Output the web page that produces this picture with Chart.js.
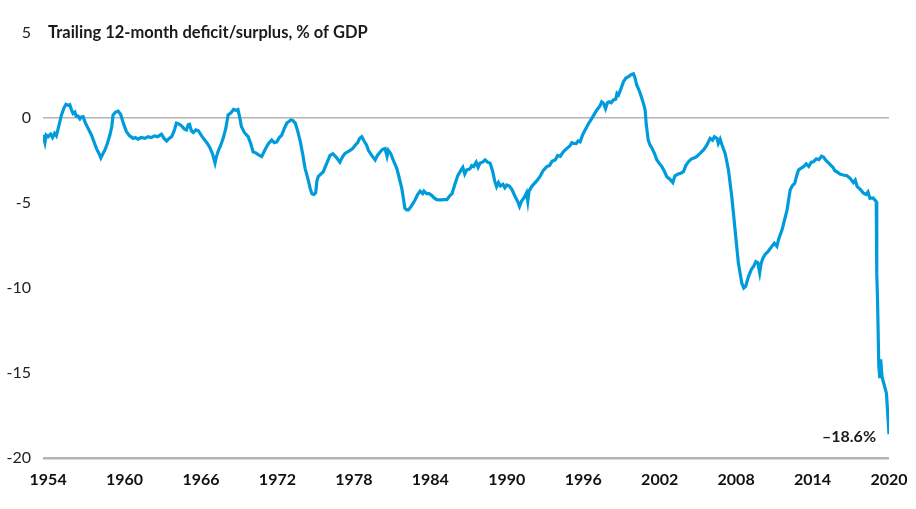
<!DOCTYPE html>
<html>
<head>
<meta charset="utf-8">
<script src="https://cdn.jsdelivr.net/npm/chart.js@4"></script>
<style>
  html, body { margin: 0; padding: 0; background: #fff; }
  #wrap { width: 916px; height: 509px; position: relative; }
</style>
</head>
<body>
<div id="wrap"><canvas id="deficitChart"></canvas></div>
<script>
// Trailing 12-month deficit/surplus, % of GDP
const years = [
  1953.6, 1953.75, 1953.85, 1954.0, 1954.2, 1954.35, 1954.5, 1954.65, 1954.8, 1955.05,
  1955.25, 1955.4, 1955.55, 1955.7, 1955.85, 1955.96, 1956.1, 1956.2, 1956.35, 1956.5,
  1956.6, 1956.75, 1956.9, 1957.1, 1957.4, 1957.6, 1957.8, 1958.0, 1958.14, 1958.3,
  1958.45, 1958.65, 1958.85, 1959.0, 1959.1, 1959.3, 1959.5, 1959.7, 1959.9, 1960.15,
  1960.4, 1960.67, 1960.85, 1961.06, 1961.3, 1961.6, 1961.85, 1962.1, 1962.35, 1962.6,
  1962.9, 1963.1, 1963.3, 1963.5, 1963.7, 1963.9, 1964.07, 1964.25, 1964.46, 1964.7,
  1964.86, 1965.0, 1965.1, 1965.25, 1965.4, 1965.6, 1965.8, 1966.05, 1966.3, 1966.5,
  1966.7, 1966.9, 1967.1, 1967.2, 1967.35, 1967.55, 1967.74, 1967.95, 1968.13, 1968.35,
  1968.55, 1968.75, 1968.9, 1969.05, 1969.17, 1969.4, 1969.7, 1969.9, 1970.1, 1970.3,
  1970.5, 1970.77, 1971.0, 1971.3, 1971.55, 1971.75, 1971.95, 1972.15, 1972.34, 1972.55,
  1972.74, 1972.9, 1973.05, 1973.2, 1973.4, 1973.6, 1973.8, 1974.0, 1974.17, 1974.4,
  1974.57, 1974.7, 1974.85, 1975.0, 1975.1, 1975.2, 1975.4, 1975.6, 1975.85, 1976.13,
  1976.35, 1976.6, 1976.9, 1977.1, 1977.3, 1977.5, 1977.7, 1977.9, 1978.1, 1978.3,
  1978.45, 1978.62, 1978.8, 1979.0, 1979.14, 1979.4, 1979.67, 1979.85, 1980.06, 1980.25,
  1980.45, 1980.6, 1980.7, 1980.9, 1981.1, 1981.37, 1981.55, 1981.76, 1981.9, 1982.0,
  1982.15, 1982.28, 1982.5, 1982.8, 1983.0, 1983.2, 1983.4, 1983.5, 1983.7, 1983.9,
  1984.1, 1984.3, 1984.5, 1984.8, 1985.05, 1985.3, 1985.5, 1985.7, 1985.95, 1986.15,
  1986.34, 1986.55, 1986.7, 1986.86, 1987.1, 1987.25, 1987.4, 1987.6, 1987.75, 1987.9,
  1988.1, 1988.3, 1988.5, 1988.7, 1988.9, 1989.05, 1989.2, 1989.35, 1989.5, 1989.7,
  1989.85, 1990.0, 1990.2, 1990.4, 1990.66, 1990.85, 1991.0, 1991.15, 1991.35, 1991.55,
  1991.65, 1991.75, 1991.9, 1992.1, 1992.35, 1992.6, 1992.85, 1993.14, 1993.35, 1993.55,
  1993.8, 1994.0, 1994.2, 1994.45, 1994.7, 1994.95, 1995.1, 1995.23, 1995.45, 1995.6,
  1995.76, 1995.95, 1996.15, 1996.4, 1996.68, 1996.85, 1997.07, 1997.3, 1997.45, 1997.6,
  1997.75, 1997.9, 1998.05, 1998.2, 1998.37, 1998.55, 1998.65, 1998.77, 1998.95, 1999.16,
  1999.35, 1999.55, 1999.75, 1999.94, 2000.05, 2000.2, 2000.4, 2000.6, 2000.75, 2000.86,
  2000.95, 2001.1, 2001.25, 2001.4, 2001.6, 2001.78, 2002.0, 2002.17, 2002.35, 2002.56,
  2002.8, 2003.03, 2003.2, 2003.45, 2003.65, 2003.87, 2004.05, 2004.26, 2004.5, 2004.7,
  2004.9, 2005.15, 2005.44, 2005.7, 2005.96, 2006.15, 2006.3, 2006.5, 2006.6, 2006.75,
  2006.9, 2007.14, 2007.4, 2007.66, 2007.92, 2008.18, 2008.45, 2008.6, 2008.75, 2008.97,
  2009.2, 2009.36, 2009.55, 2009.7, 2009.85, 2009.95, 2010.1, 2010.3, 2010.5, 2010.75,
  2011.0, 2011.2, 2011.35, 2011.6, 2011.8, 2012.0, 2012.24, 2012.4, 2012.6, 2012.75,
  2012.9, 2013.1, 2013.3, 2013.5, 2013.7, 2013.9, 2014.07, 2014.3, 2014.5, 2014.7,
  2014.86, 2015.05, 2015.2, 2015.4, 2015.6, 2015.75, 2015.9, 2016.15, 2016.4, 2016.7,
  2016.95, 2017.2, 2017.35, 2017.5, 2017.75, 2018.0, 2018.2, 2018.35, 2018.5, 2018.75,
  2019.0, 2019.04, 2019.1, 2019.2, 2019.28, 2019.35, 2019.45, 2019.55, 2019.8, 2020.0
];
const deficit = [
  -1.0, -1.45, -1.0, -1.1, -0.95, -1.15, -0.9, -1.05, -0.6, 0.18,
  0.6, 0.8, 0.75, 0.78, 0.45, 0.27, 0.35, 0.1, 0.12, -0.05,
  0.05, 0.08, -0.25, -0.55, -1.0, -1.4, -1.8, -2.1, -2.35, -2.1,
  -1.9, -1.5, -1.0, -0.5, 0.18, 0.35, 0.4, 0.2, -0.3, -0.8,
  -1.05, -1.2, -1.15, -1.25, -1.15, -1.2, -1.1, -1.15, -1.05, -1.1,
  -0.95, -1.2, -1.35, -1.2, -1.1, -0.75, -0.3, -0.35, -0.45, -0.65,
  -0.7, -0.4, -0.37, -0.75, -0.85, -0.7, -0.75, -1.05, -1.3, -1.5,
  -1.75, -2.1, -2.65, -2.3, -1.95, -1.6, -1.2, -0.6, 0.18, 0.3,
  0.5, 0.45, 0.5, 0.0, -0.5, -0.85, -1.1, -1.5, -2.0, -2.05,
  -2.15, -2.27, -1.9, -1.5, -1.3, -1.45, -1.4, -1.15, -1.0, -0.6,
  -0.3, -0.2, -0.12, -0.15, -0.3, -0.8, -1.4, -2.2, -2.96, -3.6,
  -4.14, -4.45, -4.5, -4.4, -3.7, -3.45, -3.3, -3.16, -2.7, -2.2,
  -2.1, -2.3, -2.6, -2.3, -2.08, -2.0, -1.9, -1.8, -1.6, -1.45,
  -1.2, -1.1, -1.35, -1.6, -1.9, -2.2, -2.47, -2.2, -2.0, -1.85,
  -1.8, -2.25, -1.9, -2.1, -2.5, -2.96, -3.5, -4.14, -4.8, -5.3,
  -5.4, -5.4, -5.2, -4.82, -4.5, -4.3, -4.45, -4.3, -4.45, -4.45,
  -4.55, -4.7, -4.8, -4.82, -4.8, -4.8, -4.6, -4.45, -3.85, -3.4,
  -3.15, -2.9, -3.3, -3.05, -3.0, -2.8, -2.86, -2.6, -2.9, -2.65,
  -2.6, -2.47, -2.6, -2.67, -3.16, -3.7, -4.04, -3.8, -4.0, -3.9,
  -4.1, -3.94, -4.0, -4.2, -4.63, -4.9, -5.2, -4.9, -4.7, -4.4,
  -4.9, -4.3, -4.1, -3.9, -3.7, -3.45, -3.1, -2.86, -2.8, -2.55,
  -2.47, -2.2, -2.25, -1.98, -1.8, -1.65, -1.45, -1.49, -1.5, -1.35,
  -1.4, -1.0, -0.7, -0.35, -0.02, 0.2, 0.47, 0.7, 0.95, 0.86,
  0.55, 0.9, 0.95, 0.9, 1.06, 1.1, 1.45, 1.35, 1.7, 2.14,
  2.35, 2.43, 2.55, 2.6, 2.4, 1.94, 1.6, 1.16, 0.8, 0.47,
  -0.4, -1.29, -1.6, -1.78, -2.1, -2.47, -2.7, -2.86, -3.1, -3.45,
  -3.6, -3.8, -3.4, -3.3, -3.25, -3.16, -2.8, -2.57, -2.4, -2.35,
  -2.27, -2.1, -1.88, -1.6, -1.2, -1.3, -1.1, -1.2, -1.5, -1.25,
  -1.6, -2.08, -3.06, -4.63, -6.59, -8.55, -9.72, -10.0, -9.9, -9.33,
  -8.9, -8.75, -8.45, -8.5, -9.1, -8.6, -8.25, -8.0, -7.86, -7.6,
  -7.37, -7.55, -7.1, -6.59, -6.0, -5.41, -4.24, -4.0, -3.84, -3.4,
  -3.06, -2.95, -2.86, -2.7, -2.85, -2.6, -2.57, -2.4, -2.45, -2.25,
  -2.3, -2.5, -2.6, -2.76, -2.9, -3.1, -3.16, -3.3, -3.35, -3.4,
  -3.55, -3.8, -3.65, -4.04, -4.2, -4.43, -4.5, -4.35, -4.72, -4.7,
  -4.92, -9.14, -10.7, -14.6, -15.3, -14.2, -15.2, -15.5, -16.2, -18.6
];
const xTicks = [1954, 1960, 1966, 1972, 1978, 1984, 1990, 1996, 2002, 2008, 2014, 2020];
const yTicks = [5, 0, -5, -10, -15, -20];
const chartTitle = 'Trailing 12-month deficit/surplus, % of GDP';
const endLabel = '\u201318.6%';

const blue = '#009BDB';
const gridGray = '#b4b4b4';
const fontFam = 'Lato, "Noto Sans", sans-serif';

// horizontal grey rule across the plot at a y value
const drawRule = (chart, value, thick) => {
  const { ctx, chartArea, scales } = chart;
  const y = Math.round(scales.y.getPixelForValue(value));
  ctx.save();
  ctx.fillStyle = gridGray;
  ctx.fillRect(chartArea.left, y - 1, chartArea.right - chartArea.left, thick);
  ctx.restore();
};

// rules at 0 (under the line) and -20, title next to the top tick, label at the last point
const textPlugin = {
  id: 'textPlugin',
  beforeDatasetsDraw(chart) {
    drawRule(chart, 0, 1.5);
  },
  afterDraw(chart) {
    const { ctx, scales } = chart;
    drawRule(chart, -20, 2.5);
    ctx.save();
    ctx.fillStyle = '#1a1a1a';
    ctx.font = 'bold 16.5px ' + fontFam;
    ctx.textBaseline = 'middle';
    ctx.textAlign = 'left';
    ctx.fillText(chartTitle, scales.x.left + 5, scales.y.getPixelForValue(5));
    const lastX = years[years.length - 1], lastY = deficit[deficit.length - 1];
    ctx.font = 'bold 16px ' + fontFam;
    ctx.textAlign = 'right';
    ctx.fillText(endLabel, scales.x.getPixelForValue(lastX) - 13, scales.y.getPixelForValue(lastY) + 3);
    ctx.restore();
  }
};

new Chart(document.getElementById('deficitChart'), {
  type: 'line',
  data: {
    datasets: [{
      data: years.map((yr, i) => ({ x: yr, y: deficit[i] })),
      borderColor: blue,
      borderWidth: 3.2,
      pointRadius: 0,
      tension: 0,
      fill: false
    }]
  },
  options: {
    responsive: true,
    maintainAspectRatio: false,
    animation: false,
    layout: { padding: { left: 0, right: 27, top: 33, bottom: 0 } },
    plugins: { legend: { display: false }, tooltip: { enabled: false } },
    scales: {
      x: {
        type: 'linear',
        min: 1953.6,
        max: 2020,
        afterBuildTicks: (s) => { s.ticks = xTicks.map(v => ({ value: v })); },
        afterFit: (s) => { s.height = 51; s.paddingLeft = 0; s.paddingRight = 0; },
        grid: { display: false, drawTicks: false },
        border: { display: false },
        ticks: {
          color: '#111',
          font: { family: fontFam, size: 16, weight: 'bold' },
          padding: 12,
          maxRotation: 0,
          autoSkip: false,
          callback: (v) => String(v)
        }
      },
      y: {
        min: -20,
        max: 5,
        afterBuildTicks: (s) => { s.ticks = yTicks.map(v => ({ value: v })); },
        afterFit: (s) => { s.width = 43; },
        grid: { display: false, drawTicks: false },
        border: { display: false },
        ticks: {
          color: '#222',
          font: { family: fontFam, size: 16 },
          padding: 12,
          callback: (v) => String(v)
        }
      }
    }
  },
  plugins: [textPlugin]
});
</script>
</body>
</html>
